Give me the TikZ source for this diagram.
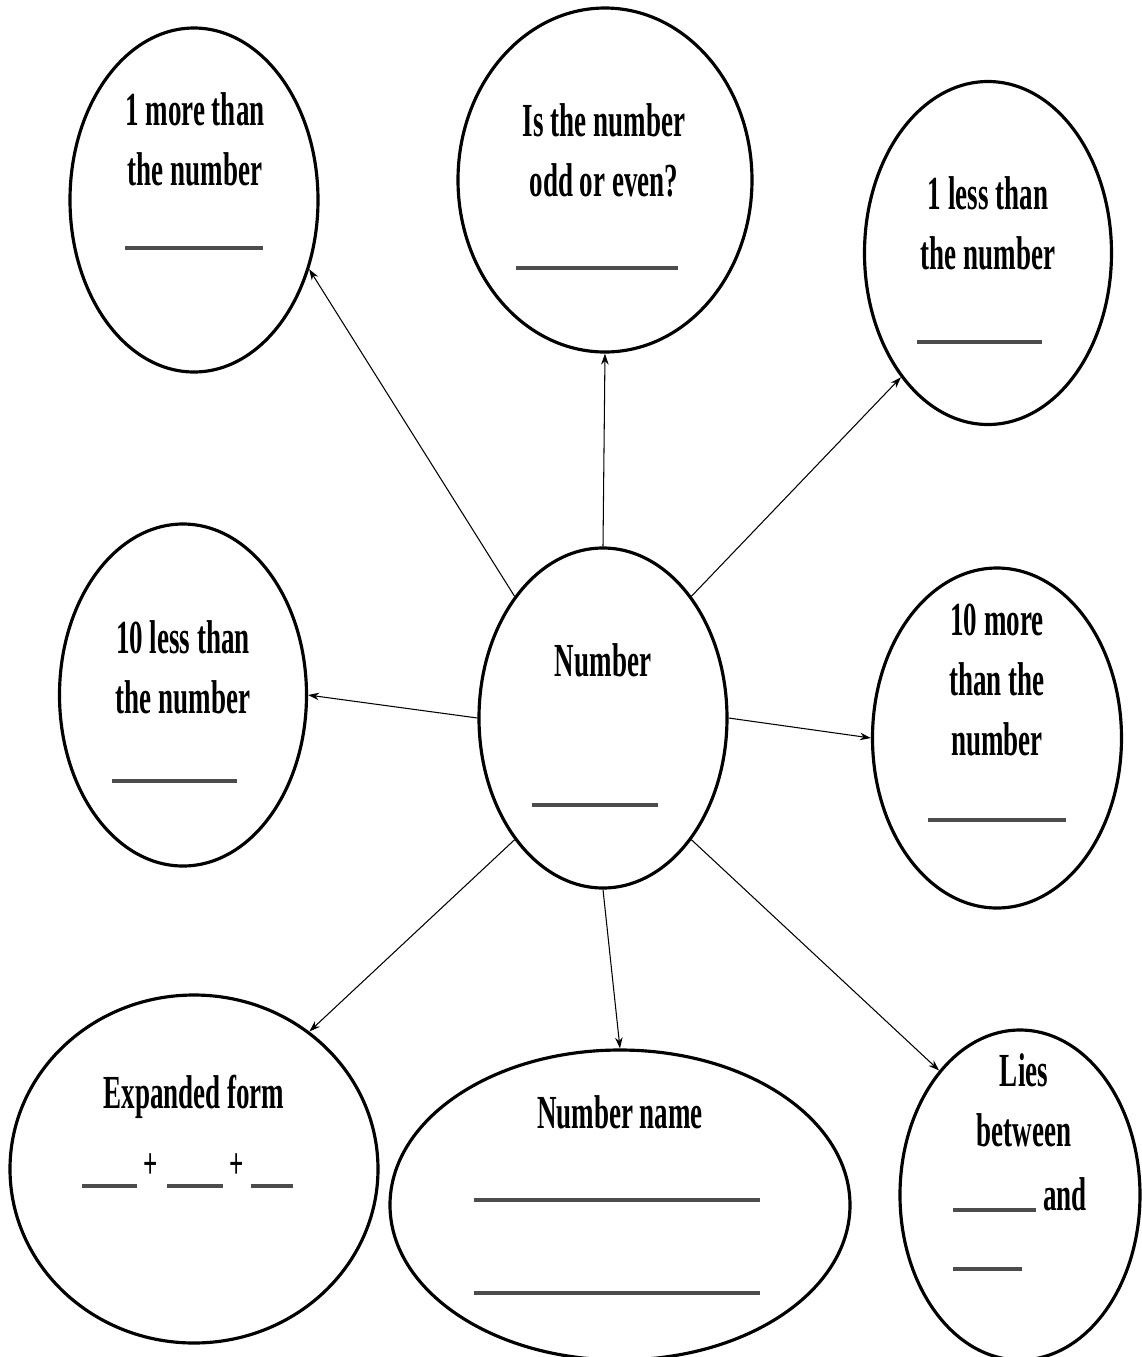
\documentclass[tikz,border=0pt]{standalone}
\usepackage{fontspec}
\setmainfont{Liberation Serif}[FakeStretch=0.57]
\usetikzlibrary{shapes.geometric,arrows.meta}

\tikzset{
    bubble/.style 2 args={ellipse, draw, line width=1.8pt, inner sep=0pt, minimum width=#1*0.02cm, minimum height=#2*0.02cm},
    lbl/.style={font=\fontsize{27}{34}\selectfont\bfseries, align=center, inner sep=0pt, anchor=north},
    plus/.style={font=\fontsize{25}{25}\selectfont\bfseries, inner sep=0pt},
    blank/.style={draw=black!70, line width=2pt},
    link/.style={-{Stealth[length=2.2mm,width=1.5mm]}, line width=0.6pt}
}

\NewDocumentCommand{\drawblank}{m m m}{
    \draw[blank] (#1,#3) -- (#2,#3);
}

\begin{document}
\begin{tikzpicture}[x=0.02cm, y=-0.02cm]
        \useasboundingbox (0,0) rectangle (1142,1357);

        % Centre
        \node[bubble={248}{340}] (num) at (603,718) {};
        \node[lbl] (numtxt) at (603,643) {Number};
        \drawblank{532}{658}{805}

        % Top row
        \node[bubble={248}{344}] (more1) at (194,200) {};
        \node[lbl] (more1txt) at (195,92) {1 more than\\the number};
        \drawblank{125}{263}{248}

        \node[bubble={294}{344}] (oddeven) at (605,180) {};
        \node[lbl] (oddeventxt) at (604,103) {Is the number\\odd or even?};
        \drawblank{516}{678}{268}

        \node[bubble={247}{343}] (less1) at (988,253) {};
        \node[lbl] (less1txt) at (988,176) {1 less than\\the number};
        \drawblank{917}{1042}{342}

        % Middle row
        \node[bubble={247}{342}] (less10) at (183,695) {};
        \node[lbl] (less10txt) at (183,620) {10 less than\\the number};
        \drawblank{112}{237}{781}

        \node[bubble={249}{340}] (more10) at (997,738) {};
        \node[lbl] (more10txt) at (997,604) {10 more\\than the\\number};
        \drawblank{928}{1066}{820}

        % Bottom row
        \node[bubble={368}{348}] (expand) at (194,1169) {};
        \node[lbl] (expandtxt) at (194,1075) {Expanded form};
        \drawblank{82}{137}{1186}
        \node[plus] (plusa) at (151,1166) {+};
        \drawblank{167}{223}{1186}
        \node[plus] (plusb) at (237,1166) {+};
        \drawblank{251}{293}{1186}

        \node[bubble={460}{310}] (name) at (620,1205) {};
        \node[lbl] (nametxt) at (620,1095) {Number name};
        \drawblank{474}{760}{1200}
        \drawblank{474}{760}{1293}

        \node[bubble={240}{330}] (lies) at (1020,1195) {};
        \node[lbl] (liestxt) at (1024,1053) {Lies\\between};
        \node[lbl] (andtxt) at (1065,1177) {and};
        \drawblank{953}{1036}{1210}
        \drawblank{953}{1022}{1269}

        % Arrows out of the centre
        \draw[link] (num.126) -- (more1.329);
        \draw[link] (num.90) -- (oddeven.270);
        \draw[link] (num.54) -- (less1.235);
        \draw[link] (num.180) -- (less10.0);
        \draw[link] (num.0) -- (more10.180);
        \draw[link] (num.234) -- (expand.50);
        \draw[link] (num.270) -- (name.90);
        \draw[link] (num.306) -- (lies.123);
    \end{tikzpicture}
\end{document}
